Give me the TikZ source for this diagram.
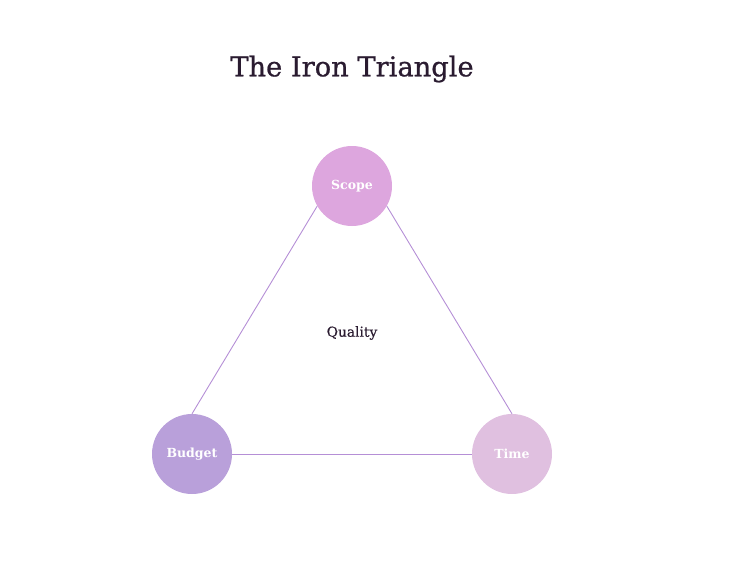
\documentclass[tikz,border=0pt]{standalone}
\usepackage{fontspec}
\setmainfont{DejaVu Serif}
\newfontfamily\titlefont[FakeBold=0.8]{DejaVu Serif}
\newfontfamily\qualfont[FakeBold=0.3]{DejaVu Serif}
\definecolor{titlec}{HTML}{2A1B30}
\definecolor{scopec}{HTML}{DDA6DE}
\definecolor{budgetc}{HTML}{B9A0DA}
\definecolor{timec}{HTML}{E0C0E0}
\definecolor{edgec}{HTML}{B58FD6}
\tikzset{
  vertex/.style={circle, minimum size=80pt, inner sep=0pt, text=white, font=\bfseries\fontsize{12.5}{14}\selectfont},
  side/.style={draw=edgec, line width=0.9pt},
}
\begin{document}
\begin{tikzpicture}[x=1pt,y=-1pt]
\useasboundingbox (0,0) rectangle (730,562);
\node[text=titlec, font=\titlefont\fontsize{27.3}{32}\selectfont] (title) at (352,69) {The Iron Triangle};
\node[vertex, fill=scopec] (scope) at (352,186) {Scope};
\node[vertex, fill=budgetc] (budget) at (192,454) {Budget};
\node[vertex, fill=timec] (time) at (512,454) {Time};
\node[text=titlec, font=\qualfont\fontsize{13.8}{16}\selectfont] (quality) at (352,333) {Quality};
\draw[side] (scope.210) -- (budget.north);
\draw[side] (scope.330) -- (time.north);
\draw[side] (budget.east) -- (time.west);
\end{tikzpicture}
\end{document}
